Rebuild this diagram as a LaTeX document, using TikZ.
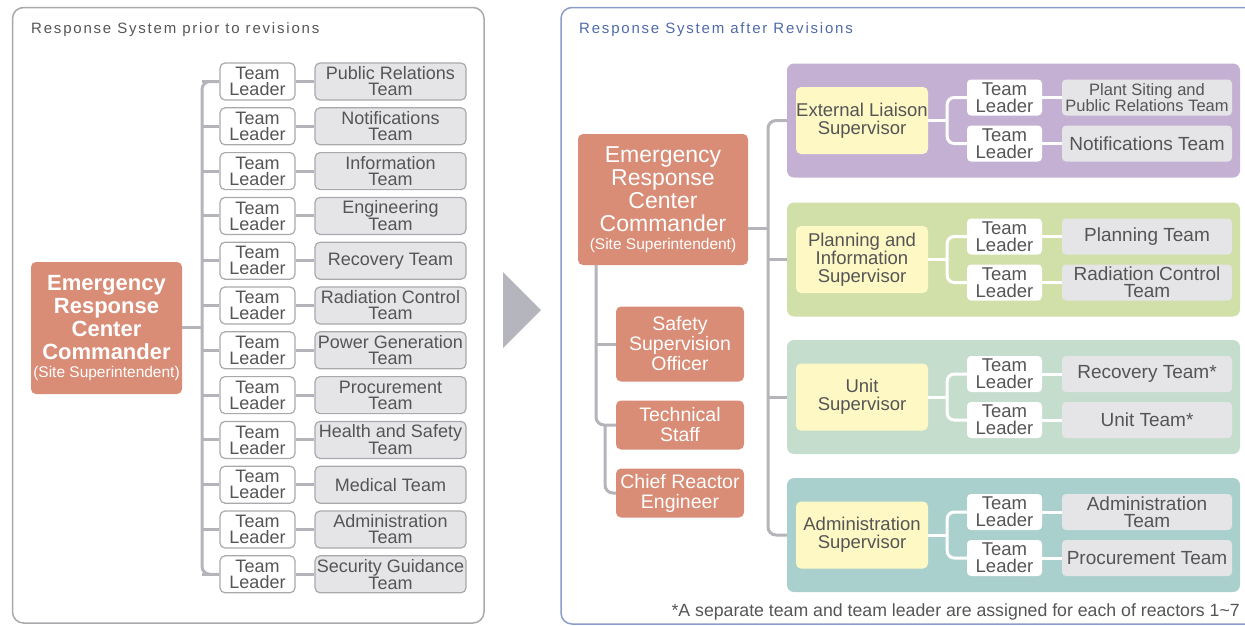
\documentclass[tikz,border=0pt]{standalone}
\usepackage{fontspec}
\setmainfont{Liberation Sans}
\newfontfamily\spacedfont[LetterSpace=12]{Liberation Sans}
\definecolor{salmon}{HTML}{D98C76}
\definecolor{linegray}{HTML}{B4B4BA}
\definecolor{boxgray}{HTML}{A9A9AD}
\definecolor{teamfill}{HTML}{E5E5E7}
\definecolor{txtgray}{HTML}{555555}
\definecolor{arrowgray}{HTML}{B5B5BD}
\definecolor{frameblue}{HTML}{8C9CCB}
\definecolor{titleblue}{HTML}{4F6AA8}
\definecolor{supyellow}{HTML}{FDF8C4}
\definecolor{panpurple}{HTML}{C3B0D3}
\definecolor{pangreen}{HTML}{D1DFA9}
\definecolor{panmint}{HTML}{C5DDCD}
\definecolor{panteal}{HTML}{AAD0CE}
\tikzset{
  panelframe/.style={rounded corners=11pt, line width=1.5pt},
  cmdbox/.style={fill=salmon, rounded corners=5pt, text=white, align=center, inner sep=0pt},
  leader/.style={draw=boxgray, fill=white, line width=1.2pt, rounded corners=5pt, minimum width=75pt,
    minimum height=37pt, inner sep=0pt, align=center, text=txtgray, font=\fontsize{18}{16}\selectfont},
  oldteam/.style={leader, fill=teamfill, minimum width=151pt},
  oldline/.style={draw=linegray, line width=3pt},
  panel/.style={rounded corners=7pt, minimum width=453pt, minimum height=114pt, inner sep=0pt},
  supbox/.style={fill=supyellow, rounded corners=5pt, minimum width=132pt, minimum height=67pt,
    inner sep=0pt, align=center, text=txtgray, font=\fontsize{18.5}{18}\selectfont},
  newleader/.style={fill=white, rounded corners=4pt, minimum width=75pt, minimum height=36pt,
    inner sep=0pt, align=center, text=txtgray, font=\fontsize{18.5}{17}\selectfont},
  newteam/.style={newleader, fill=teamfill, minimum width=170pt, font=\fontsize{19}{17}\selectfont},
  inline/.style={draw=white, line width=3pt},
  heading/.style={anchor=base west, inner sep=0pt, font=\spacedfont\fontsize{15}{15}\selectfont}
}
\begin{document}
\begin{tikzpicture}[x=1pt, y=-1pt]
  \useasboundingbox (0,0) rectangle (1245,625);
  % before the revisions
  \draw[panelframe, draw=boxgray] (12.5,7.5) rectangle (484,623);
  \node[heading, text=txtgray] (oldtitle) at (31,33) {Response System prior to revisions};
  \node[cmdbox, minimum width=151pt, minimum height=132pt, font=\bfseries\fontsize{22}{23}\selectfont] (cmdL) at (106.5,328)
    {Emergency\\Response\\Center\\Commander\\[-5pt]{\mdseries\fontsize{15.5}{15}\selectfont(Site Superintendent)}};
  \coordinate (lspine) at (202,327);
  \foreach \tm [count=\i from 0] in {{Public Relations\\Team},{Notifications\\Team},{Information\\Team},
      {Engineering\\Team},{Recovery Team},{Radiation Control\\Team},{Power Generation\\Team},
      {Procurement\\Team},{Health and Safety\\Team},{Medical Team},{Administration\\Team},
      {Security Guidance\\Team}}{
    \pgfmathsetmacro\yy{81.5+44.8*\i}
    \node[leader] (ldr\i) at (257.5,\yy) {Team\\Leader};
    \node[oldteam] (team\i) at (390.5,\yy) {\tm};
    \draw[oldline] (ldr\i) -- (team\i);
    \draw[oldline] (ldr\i.west) -- (ldr\i.west -| lspine);
  }
  \draw[oldline, rounded corners=8pt] (ldr0.west) -| (lspine) |- (ldr11.west);
  \draw[oldline] (cmdL.east |- lspine) -- (lspine);
  % arrow
  \fill[arrowgray] (503,272) -- (541,310) -- (503,348) -- cycle;
  % after the revisions
  \draw[panelframe, draw=frameblue] (561,7.5) rectangle (1262,624);
  \node[heading, text=titleblue] (newtitle) at (579,33) {Response System after Revisions};
  \node[cmdbox, minimum width=170pt, minimum height=131pt, font=\fontsize{23}{23}\selectfont] (cmdR) at (663,199.5)
    {Emergency\\Response\\Center\\Commander\\[-5pt]{\fontsize{15.5}{15}\selectfont(Site Superintendent)}};
  \node[cmdbox, minimum width=128pt, minimum height=75pt, font=\fontsize{19.5}{20}\selectfont] (safety) at (680,344)
    {Safety\\Supervision\\Officer};
  \node[cmdbox, minimum width=128pt, minimum height=49pt, font=\fontsize{19.5}{20}\selectfont] (tech) at (680,425)
    {Technical\\Staff};
  \node[cmdbox, minimum width=128pt, minimum height=49pt, font=\fontsize{19.5}{20}\selectfont] (chief) at (680,493)
    {Chief Reactor\\Engineer};
  \coordinate (cj) at (596,425);
  \coordinate (cj2) at (605,425);
  \draw[oldline, rounded corners=8pt] (cj |- cmdR.south) -- (cj) -- (tech.west);
  \draw[oldline] (safety.west) -- (safety.west -| cj);
  \draw[oldline, rounded corners=8pt] (cj2) |- (chief.west);
  \foreach \py/\col/\sv/\ta/\tb/\fs/\lf [count=\i] in {
      120.5/panpurple/{External Liaison\\Supervisor}/{Plant Siting and\\Public Relations Team}/{Notifications Team}/16.5/15,
      259.5/pangreen/{Planning and\\Information\\Supervisor}/{Planning Team}/{Radiation Control\\Team}/19/17,
      397/panmint/{Unit\\Supervisor}/{Recovery Team*}/{Unit Team*}/19/17,
      535/panteal/{Administration\\Supervisor}/{Administration\\Team}/{Procurement Team}/19/17}{
    \node[panel, fill=\col] (pan\i) at (1013.5,\py) {};
    \node[supbox] (sup\i) at (862,\py) {\sv};
    \node[newleader] (ldrA\i) at (1004.5,\py-23) {Team\\Leader};
    \node[newleader] (ldrB\i) at (1004.5,\py+23) {Team\\Leader};
    \node[newteam, font=\fontsize{\fs}{\lf}\selectfont] (teamA\i) at (1147,\py-23) {\ta};
    \node[newteam] (teamB\i) at (1147,\py+23) {\tb};
    \draw[inline] (sup\i.east) -- ++(19,0) coordinate (j\i);
    \draw[inline, rounded corners=7pt] (ldrA\i.west) -| (j\i) |- (ldrB\i.west);
    \draw[inline] (ldrA\i) -- (teamA\i);
    \draw[inline] (ldrB\i) -- (teamB\i);
  }
  \coordinate (rj) at (768,228);
  \draw[oldline] (cmdR.east |- rj) -- (rj);
  \draw[oldline, rounded corners=8pt] (pan1.west) -| (rj) |- (pan4.west);
  \foreach \i in {2,3} \draw[oldline] (pan\i.west) -- (pan\i.west -| rj);
  \node[anchor=base east, inner sep=0pt, text=txtgray, font=\fontsize{17.7}{17}\selectfont] (note) at (1240,616)
    {*A separate team and team leader are assigned for each of reactors 1\textasciitilde7};
\end{tikzpicture}
\end{document}
